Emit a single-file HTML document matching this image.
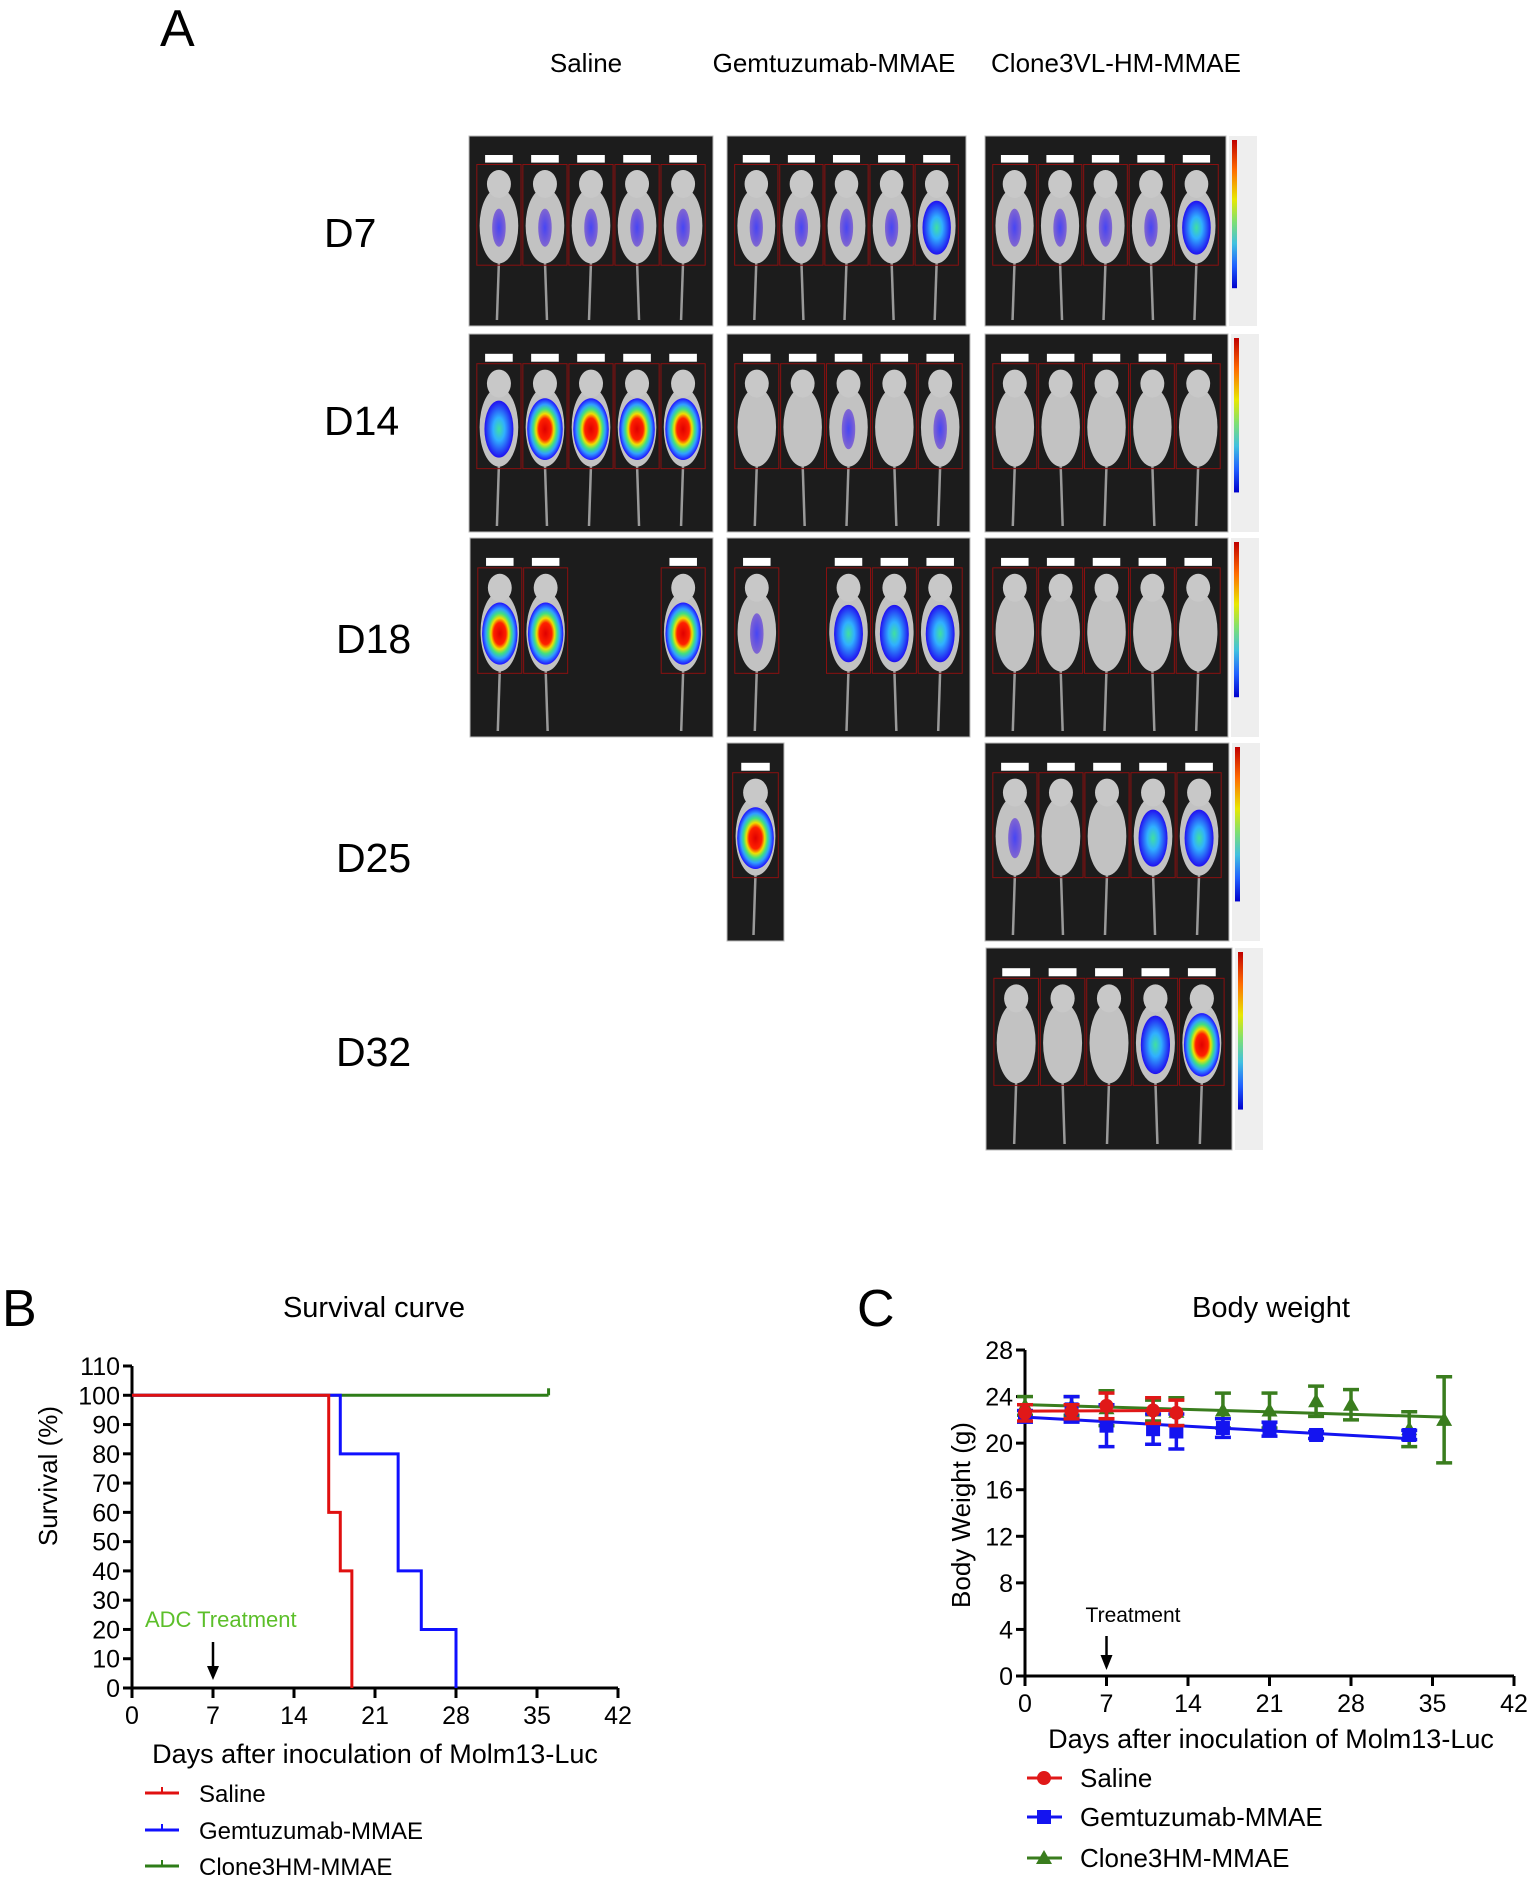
<!DOCTYPE html>
<html><head><meta charset="utf-8">
<style>
html,body{margin:0;padding:0;background:#fff;}
svg{display:block;font-family:"Liberation Sans",Arial,sans-serif;}
</style></head>
<body>
<svg id="fig" width="1535" height="1883" viewBox="0 0 1535 1883" xmlns="http://www.w3.org/2000/svg">
<defs>
<linearGradient id="cbar" x1="0" y1="0" x2="0" y2="1">
<stop offset="0" stop-color="#c00000"/><stop offset="0.2" stop-color="#ff6a00"/><stop offset="0.4" stop-color="#e8e800"/><stop offset="0.55" stop-color="#7fe070"/><stop offset="0.7" stop-color="#40c0e0"/><stop offset="0.85" stop-color="#2060ff"/><stop offset="1" stop-color="#0000cc"/>
</linearGradient>
<radialGradient id="blob3"><stop offset="0" stop-color="#e00000"/><stop offset="0.35" stop-color="#ff2000"/><stop offset="0.5" stop-color="#f0e000"/><stop offset="0.65" stop-color="#40e080"/><stop offset="0.8" stop-color="#30a0ff"/><stop offset="1" stop-color="#2010ff"/></radialGradient>
<radialGradient id="blob2"><stop offset="0" stop-color="#40e0a0"/><stop offset="0.4" stop-color="#30b0ff"/><stop offset="1" stop-color="#2010f0"/></radialGradient>
<radialGradient id="blob1"><stop offset="0" stop-color="#3030ff"/><stop offset="1" stop-color="#4010e0" stop-opacity="0.6"/></radialGradient>
</defs>
<g id="panelA">
<text x="160" y="46" font-size="52">A</text>
<text x="586" y="72" font-size="26" text-anchor="middle">Saline</text>
<text x="834" y="72" font-size="26" text-anchor="middle">Gemtuzumab-MMAE</text>
<text x="1116" y="72" font-size="26" text-anchor="middle">Clone3VL-HM-MMAE</text>
<text x="324" y="247" font-size="41">D7</text>
<text x="324" y="435" font-size="41">D14</text>
<text x="336" y="653" font-size="41">D18</text>
<text x="336" y="872" font-size="41">D25</text>
<text x="336" y="1066" font-size="41">D32</text>
<g id="imgs"></g>
</g>
<g id="chartB"></g>
<g id="chartC"></g>
</svg>
<script>
// ---------- Survival data ----------
const survSalineDays=[0,17,18,19];
const survSalineVals=[100,60,40,0];
const survGemDays=[0,18,23,25,28];
const survGemVals=[100,80,40,20,0];
const survCloneDays=[0,36];
const survCloneVals=[100,100];
const survXTicks=[0,7,14,21,28,35,42];
const survYTicks=[0,10,20,30,40,50,60,70,80,90,100,110];
// ---------- Body weight data ----------
const bwXTicks=[0,7,14,21,28,35,42];
const bwYTicks=[0,4,8,12,16,20,24,28];
const bwSalineDays=[0,4,7,11,13];
const bwSalineVals=[22.6,22.7,23.2,22.8,22.6];
const bwSalineErr=[0.7,0.6,1.1,1.1,1.1];
const bwGemDays=[0,4,7,11,13,17,21,25,33];
const bwGemVals=[22.3,22.9,21.5,21.2,21.0,21.3,21.2,20.7,20.7];
const bwGemErr=[0.5,1.1,1.8,1.3,1.5,0.8,0.6,0.3,0.4];
const bwCloneDays=[0,4,7,11,13,17,21,25,28,33,36];
const bwCloneVals=[23.2,23.2,23.0,22.8,22.7,22.8,22.8,23.6,23.3,21.2,22.0];
const bwCloneErr=[0.8,0.8,1.5,0.9,1.2,1.5,1.5,1.3,1.3,1.5,3.7];

const NS="http://www.w3.org/2000/svg";
function mk(parent,tag,attrs){const e=document.createElementNS(NS,tag);for(const k in attrs)e.setAttribute(k,attrs[k]);parent.appendChild(e);return e;}

// ---------- Imaging panels ----------
const imgs=document.getElementById('imgs');
const panels=[
 {x:469,y:136,w:244,h:190,lv:[1,1,1,1,1]},
 {x:727,y:136,w:239,h:190,lv:[1,1,1,1,2]},
 {x:985,y:136,w:241,h:190,lv:[1,1,1,1,2],cb:true},
 {x:469,y:334,w:244,h:198,lv:[2,3,3,3,3]},
 {x:727,y:334,w:243,h:198,lv:[0,0,1,0,1]},
 {x:985,y:334,w:243,h:198,lv:[0,0,0,0,0],cb:true},
 {x:470,y:538,w:243,h:199,lv:[3,3,-1,-1,3]},
 {x:727,y:538,w:243,h:199,lv:[1,-1,2,2,2]},
 {x:985,y:538,w:243,h:199,lv:[0,0,0,0,0],cb:true},
 {x:727,y:743,w:57,h:198,lv:[3],single:true},
 {x:985,y:743,w:244,h:198,lv:[1,0,0,2,2],cb:true},
 {x:986,y:948,w:246,h:202,lv:[0,0,0,2,3],cb:true}
];
panels.forEach((p,pi)=>{
  const g=mk(imgs,'g',{});
  
  
  mk(g,'rect',{x:p.x,y:p.y,width:p.w,height:p.h,fill:'#1c1c1c',stroke:'#bbb','stroke-width':1});
  const slot=p.w/(p.single?1.2:5.3);
  p.lv.forEach((lv,i)=>{
    const cx=p.single?p.x+p.w/2:p.x+slot*(0.65+i);
    if(lv<0)return;
    const rx=slot*0.42, top=p.y+p.h*0.2, by=p.y+p.h*0.66;
    mk(g,'line',{x1:cx,y1:by,x2:cx+(i%2?2:-2),y2:p.y+p.h-6,stroke:'#9a9a9a','stroke-width':2.5});
    mk(g,'rect',{x:cx-slot*0.48,y:p.y+p.h*0.15,width:slot*0.96,height:p.h*0.53,fill:'none',stroke:'#8a1010','stroke-width':1});
    mk(g,'rect',{x:cx-slot*0.3,y:p.y+p.h*0.1,width:slot*0.6,height:p.h*0.04,fill:'#fff'});
    mk(g,'ellipse',{cx:cx,cy:(top+by)/2+8,rx:rx,ry:(by-top)/2-6,fill:'#c2c2c2'});
    mk(g,'ellipse',{cx:cx,cy:top+10,rx:rx*0.62,ry:14,fill:'#c8c8c8'});
    const bcy=(top+by)/2+10, bry=(by-top)/2-12;
    if(lv===1) mk(g,'ellipse',{cx:cx,cy:bcy,rx:rx*0.35,ry:bry*0.6,fill:'url(#blob1)',opacity:0.85});
    if(lv===2) mk(g,'ellipse',{cx:cx,cy:bcy,rx:rx*0.75,ry:bry*0.85,fill:'url(#blob2)'});
    if(lv===3) mk(g,'ellipse',{cx:cx,cy:bcy,rx:rx*0.92,ry:bry*0.92,fill:'url(#blob3)'});
  });
  if(p.cb){
    const cx=p.x+p.w+3;
    mk(g,'rect',{x:cx,y:p.y,width:28,height:p.h,fill:'#eeeeee'});
    mk(g,'rect',{x:cx+3,y:p.y+4,width:5,height:p.h*0.78,fill:'url(#cbar)'});
  }
});

function axes(g,o){
  mk(g,'line',{x1:o.x0,y1:o.y0+1.5,x2:o.x0,y2:o.y1,stroke:'#000','stroke-width':3});
  mk(g,'line',{x1:o.x0-1.5,y1:o.y0,x2:o.x1,y2:o.y0,stroke:'#000','stroke-width':3});
}

// ---------- Chart B ----------
(function(){
  const g=document.getElementById('chartB');
  const X0=132,X1=618,Y0=1688,Y1=1366;
  const sx=d=>X0+(d-0)/(42-0)*(X1-X0);
  const sy=v=>Y0-(v-0)/(110-0)*(Y0-Y1);
  const t1=mk(g,'text',{x:2,y:1326,'font-size':52});t1.textContent='B';
  
  
  const tt=mk(g,'text',{x:374,y:1317,'font-size':29,'text-anchor':'middle'});tt.textContent='Survival curve';
  
  
  axes(g,{x0:X0,y0:Y0,x1:X1,y1:Y1});
  survYTicks.forEach(v=>{
    mk(g,'line',{x1:X0-9,y1:sy(v),x2:X0,y2:sy(v),stroke:'#000','stroke-width':3});
    const t=mk(g,'text',{x:X0-12,y:sy(v)+9,'font-size':25,'text-anchor':'end'});t.textContent=v;
    
    
  });
  survXTicks.forEach(v=>{
    mk(g,'line',{x1:sx(v),y1:Y0,x2:sx(v),y2:Y0+10,stroke:'#000','stroke-width':3});
    const t=mk(g,'text',{x:sx(v),y:Y0+36,'font-size':25,'text-anchor':'middle'});t.textContent=v;
    
    
  });
  const yt=mk(g,'text',{x:0,y:0,'font-size':26,'text-anchor':'middle',transform:'translate(57,1476) rotate(-90)'});yt.textContent='Survival (%)';
  
  
  const xt=mk(g,'text',{x:375,y:1763,'font-size':27,'text-anchor':'middle'});xt.textContent='Days after inoculation of Molm13-Luc';
  
  
  const at=mk(g,'text',{x:145,y:1627,'font-size':22,fill:'#5cbf2a'});at.textContent='ADC Treatment';
  
  
  mk(g,'line',{x1:sx(7),y1:1642,x2:sx(7),y2:1670,stroke:'#000','stroke-width':2.5});
  mk(g,'path',{d:`M${sx(7)-6},1666 L${sx(7)+6},1666 L${sx(7)},1680 Z`,fill:'#000'});
  function step(days,vals,col,name,endTick){
    let d=`M${sx(days[0])},${sy(vals[0])}`;
    for(let i=1;i<days.length;i++){d+=` L${sx(days[i])},${sy(vals[i-1])} L${sx(days[i])},${sy(vals[i])}`;}
    const p=mk(g,'path',{d:d,fill:'none',stroke:col,'stroke-width':3});
    
    
    if(endTick){const L=days.length-1;mk(g,'line',{x1:sx(days[L]),y1:sy(vals[L]),x2:sx(days[L]),y2:sy(vals[L])-7,stroke:col,'stroke-width':3});}
  }
  step(survCloneDays,survCloneVals,'#2e7d18','survival-line-clone3hm',true);
  step(survGemDays,survGemVals,'#1010ff','survival-line-gemtuzumab',false);
  step(survSalineDays,survSalineVals,'#e01010','survival-line-saline',false);
  const leg=[['Saline','#e01010',1793],['Gemtuzumab-MMAE','#1010ff',1830],['Clone3HM-MMAE','#2e7d18',1866]];
  leg.forEach(l=>{
    const lg=mk(g,'g',{});
    
    
    mk(lg,'line',{x1:145,y1:l[2],x2:179,y2:l[2],stroke:l[1],'stroke-width':3});
    mk(lg,'line',{x1:162,y1:l[2],x2:162,y2:l[2]-6,stroke:l[1],'stroke-width':2});
    const t=mk(lg,'text',{x:199,y:l[2]+9,'font-size':24});t.textContent=l[0];
  });
})();

// ---------- Chart C ----------
(function(){
  const g=document.getElementById('chartC');
  const X0=1025,X1=1514,Y0=1676,Y1=1350;
  const sx=d=>X0+(d-0)/(42-0)*(X1-X0);
  const sy=v=>Y0-(v-0)/(28-0)*(Y0-Y1);
  const t1=mk(g,'text',{x:857,y:1326,'font-size':52});t1.textContent='C';
  
  
  const tt=mk(g,'text',{x:1271,y:1317,'font-size':29,'text-anchor':'middle'});tt.textContent='Body weight';
  
  
  axes(g,{x0:X0,y0:Y0,x1:X1,y1:Y1});
  bwYTicks.forEach(v=>{
    mk(g,'line',{x1:X0-9,y1:sy(v),x2:X0,y2:sy(v),stroke:'#000','stroke-width':3});
    const t=mk(g,'text',{x:X0-12,y:sy(v)+9,'font-size':25,'text-anchor':'end'});t.textContent=v;
    
    
  });
  bwXTicks.forEach(v=>{
    mk(g,'line',{x1:sx(v),y1:Y0,x2:sx(v),y2:Y0+10,stroke:'#000','stroke-width':3});
    const t=mk(g,'text',{x:sx(v),y:Y0+36,'font-size':25,'text-anchor':'middle'});t.textContent=v;
    
    
  });
  const yt=mk(g,'text',{x:0,y:0,'font-size':26,'text-anchor':'middle',transform:'translate(970,1515) rotate(-90)'});yt.textContent='Body Weight (g)';
  
  
  const xt=mk(g,'text',{x:1271,y:1748,'font-size':27,'text-anchor':'middle'});xt.textContent='Days after inoculation of Molm13-Luc';
  
  
  const at=mk(g,'text',{x:1133,y:1622,'font-size':21,'text-anchor':'middle'});at.textContent='Treatment';
  
  
  mk(g,'line',{x1:sx(7),y1:1636,x2:sx(7),y2:1658,stroke:'#000','stroke-width':2.5});
  mk(g,'path',{d:`M${sx(7)-6},1655 L${sx(7)+6},1655 L${sx(7)},1670 Z`,fill:'#000'});
  function fit(xs,ys){const n=xs.length;let mx=0,my=0;xs.forEach((x,i)=>{mx+=x;my+=ys[i];});mx/=n;my/=n;let sxy=0,sxx=0;xs.forEach((x,i)=>{sxy+=(x-mx)*(ys[i]-my);sxx+=(x-mx)*(x-mx);});const b=sxy/sxx;return [my-b*mx,b];}
  function series(days,vals,errs,col,shape,name){
    const sg=mk(g,'g',{});
    
    
    const [a,b]=fit(days,vals);
    const dA=days[0],dB=days[days.length-1];
    mk(sg,'line',{x1:sx(dA),y1:sy(a+b*dA),x2:sx(dB),y2:sy(a+b*dB),stroke:col,'stroke-width':3});
    days.forEach((d,i)=>{
      const x=sx(d),y=sy(vals[i]),yt=sy(vals[i]+errs[i]),yb=sy(vals[i]-errs[i]);
      mk(sg,'line',{x1:x,y1:yt,x2:x,y2:yb,stroke:col,'stroke-width':3.5});
      mk(sg,'line',{x1:x-8,y1:yt,x2:x+8,y2:yt,stroke:col,'stroke-width':3.5});
      mk(sg,'line',{x1:x-8,y1:yb,x2:x+8,y2:yb,stroke:col,'stroke-width':3.5});
      let m;
      if(shape==='c') m=mk(sg,'circle',{cx:x,cy:y,r:7,fill:col});
      else if(shape==='s') m=mk(sg,'rect',{x:x-7,y:y-7,width:14,height:14,fill:col});
      else m=mk(sg,'path',{d:`M${x},${y-8} L${x+8},${y+6} L${x-8},${y+6} Z`,fill:col});
      
      
    });
  }
  series(bwCloneDays,bwCloneVals,bwCloneErr,'#3a7d1e','t','series-clone3hm');
  series(bwGemDays,bwGemVals,bwGemErr,'#1414f0','s','series-gemtuzumab');
  series(bwSalineDays,bwSalineVals,bwSalineErr,'#e01818','c','series-saline');
  const leg=[['Saline','#e01818','c',1778],['Gemtuzumab-MMAE','#1414f0','s',1817],['Clone3HM-MMAE','#3a7d1e','t',1858]];
  leg.forEach(l=>{
    const lg=mk(g,'g',{});
    
    
    const y=l[3],x=1044;
    mk(lg,'line',{x1:1027,y1:y,x2:1062,y2:y,stroke:l[1],'stroke-width':3});
    if(l[2]==='c') mk(lg,'circle',{cx:x,cy:y,r:7,fill:l[1]});
    else if(l[2]==='s') mk(lg,'rect',{x:x-7,y:y-7,width:14,height:14,fill:l[1]});
    else mk(lg,'path',{d:`M${x},${y-8} L${x+8},${y+6} L${x-8},${y+6} Z`,fill:l[1]});
    const t=mk(lg,'text',{x:1080,y:y+9,'font-size':26});t.textContent=l[0];
  });
})();
</script>
</body></html>
